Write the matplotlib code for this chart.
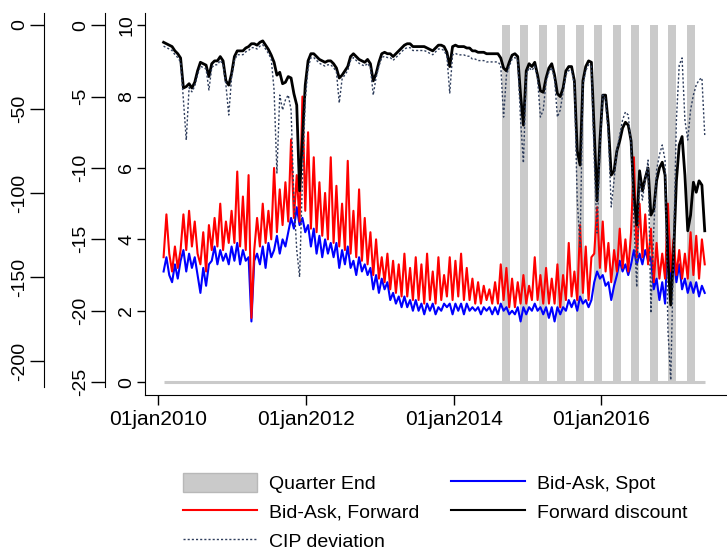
import matplotlib
matplotlib.use("Agg")
import matplotlib.pyplot as plt
import matplotlib.dates as mdates
from matplotlib.patches import Patch
from matplotlib.lines import Line2D
import pandas as pd

plt.rcParams['font.family'] = ['Liberation Sans', 'DejaVu Sans']
plt.rcParams['axes.unicode_minus'] = False

# biweekly observations, Jan 2010 - May 2017
dates = pd.date_range('2010-01-29', periods=192, freq='14D')

# bid-ask spreads (left inner axis, 0..10)
bid_ask_fwd = [
    3.5, 4.7, 3.6, 3.1, 3.8, 3.2, 3.7, 4.7, 3.7, 4.8,
    3.8, 4.5, 3.6, 3.3, 4.2, 3.1, 4.4, 3.7, 4.6, 3.8,
    5.0, 3.7, 4.5, 3.9, 4.8, 3.9, 5.9, 3.8, 5.2, 3.7,
    5.8, 1.8, 3.7, 4.6, 3.8, 5.0, 3.9, 4.8, 4.0, 6.0,
    4.2, 5.4, 4.4, 5.6, 4.5, 6.8, 4.6, 5.8, 4.5, 8.0,
    4.8, 7.0, 4.3, 6.3, 4.2, 5.6, 4.1, 5.3, 4.0, 6.3,
    3.9, 5.5, 3.8, 5.0, 3.7, 6.2, 3.6, 4.8, 3.5, 5.4,
    3.4, 4.6, 3.3, 4.2, 3.0, 4.0, 2.9, 3.5, 2.8, 3.6,
    2.6, 3.4, 2.5, 3.3, 2.4, 3.6, 2.4, 3.2, 2.3, 3.5,
    2.3, 3.3, 2.2, 3.6, 2.3, 3.1, 2.2, 3.5, 2.3, 3.0,
    2.4, 3.5, 2.3, 3.4, 2.4, 3.6, 2.3, 3.2, 2.3, 2.9,
    2.2, 2.8, 2.2, 2.7, 2.3, 2.6, 2.2, 2.8, 2.2, 3.3,
    2.3, 3.2, 2.1, 2.9, 2.1, 2.8, 2.2, 3.0, 2.2, 2.7,
    2.3, 3.5, 2.3, 3.0, 2.2, 3.2, 2.2, 2.9, 2.2, 3.3,
    2.1, 3.0, 2.3, 3.9, 2.4, 3.1, 2.3, 4.4, 2.5, 3.8,
    2.3, 3.5, 3.6, 4.9, 3.2, 4.5, 3.1, 3.9, 2.8, 3.7,
    3.1, 4.3, 3.2, 4.0, 3.1, 4.2, 6.3, 3.5, 5.0, 3.5,
    4.7, 3.3, 4.3, 2.8, 3.9, 2.9, 3.6, 2.9, 5.0, 3.1,
    4.0, 3.0, 3.7, 2.9, 3.6, 2.9, 4.2, 3.0, 4.1, 2.9,
    4.0, 3.3,
]
bid_ask_spot = [
    3.1, 3.5, 3.0, 2.8, 3.3, 2.9, 3.4, 3.7, 3.1, 3.6,
    3.2, 3.5, 3.0, 2.5, 3.2, 2.7, 3.3, 3.4, 3.8, 3.3,
    3.7, 3.4, 3.6, 3.3, 3.8, 3.4, 3.9, 3.3, 3.7, 3.4,
    3.5, 1.7, 3.4, 3.6, 3.3, 3.8, 3.2, 3.9, 3.5, 3.7,
    4.1, 3.6, 4.0, 3.8, 4.2, 4.6, 4.3, 4.9, 4.4, 4.6,
    4.2, 4.4, 3.8, 4.3, 3.6, 4.1, 3.5, 4.0, 3.6, 3.9,
    3.5, 3.9, 3.2, 3.7, 3.3, 3.8, 3.2, 3.4, 3.0, 3.5,
    3.1, 3.3, 3.0, 3.2, 2.6, 3.0, 2.5, 2.9, 2.6, 2.8,
    2.3, 2.5, 2.2, 2.4, 2.1, 2.4, 2.1, 2.3, 2.0, 2.3,
    2.0, 2.2, 1.9, 2.2, 2.0, 2.2, 1.9, 2.1, 2.0, 2.2,
    2.1, 2.2, 1.9, 2.2, 2.0, 2.2, 1.9, 2.2, 2.0, 2.1,
    2.0, 2.1, 1.9, 2.1, 2.0, 2.1, 1.9, 2.1, 1.9, 2.2,
    2.0, 2.1, 1.9, 2.0, 1.9, 2.1, 1.7, 2.1, 1.9, 2.1,
    2.0, 2.2, 2.0, 2.1, 1.9, 2.1, 1.8, 2.1, 1.7, 2.1,
    1.9, 2.1, 2.0, 2.3, 2.1, 2.3, 2.0, 2.4, 2.2, 2.3,
    2.1, 2.3, 2.8, 3.1, 2.9, 3.0, 2.7, 2.8, 2.3, 2.7,
    3.0, 3.4, 3.1, 3.3, 3.0, 3.3, 3.7, 3.3, 3.6, 3.3,
    3.7, 3.4, 3.5, 2.6, 2.9, 2.3, 2.8, 2.2, 4.1, 2.9,
    3.5, 2.8, 3.3, 2.6, 2.9, 2.5, 2.8, 2.5, 2.8, 2.4,
    2.7, 2.5,
]
# forward discount (middle axis, -25..0)
fwd_discount = [
    -1.2, -1.3, -1.4, -1.5, -1.8, -2.0, -2.3, -4.4, -4.3, -4.1,
    -4.4, -4.0, -3.2, -2.6, -2.7, -2.8, -3.6, -2.7, -2.5, -2.5,
    -2.2, -2.5, -3.9, -4.2, -3.4, -2.2, -1.8, -1.8, -1.8, -1.6,
    -1.5, -1.3, -1.3, -1.4, -1.2, -1.1, -1.4, -1.7, -2.1, -2.6,
    -3.5, -3.3, -4.1, -4.0, -3.6, -3.7, -4.8, -5.6, -11.6, -8.0,
    -4.2, -2.5, -2.0, -2.0, -2.2, -2.4, -2.5, -2.6, -2.5, -2.5,
    -2.7, -3.0, -3.7, -3.5, -3.2, -2.9, -2.2, -2.0, -2.2, -2.4,
    -2.5, -2.6, -2.4, -2.7, -3.9, -3.4, -2.6, -2.0, -1.9, -2.0,
    -2.0, -2.2, -2.0, -1.8, -1.6, -1.4, -1.3, -1.3, -1.5, -1.5,
    -1.5, -1.5, -1.5, -1.6, -1.7, -1.8, -1.6, -1.4, -1.4, -1.5,
    -1.9, -2.9, -1.5, -1.4, -1.5, -1.5, -1.5, -1.6, -1.6, -1.8,
    -1.8, -1.9, -1.9, -1.9, -2.0, -2.0, -2.0, -2.0, -2.0, -2.3,
    -3.0, -3.2, -2.6, -2.1, -2.0, -2.2, -4.9, -7.0, -3.2, -2.7,
    -2.9, -2.6, -3.5, -4.6, -4.7, -3.7, -3.0, -2.7, -3.5, -4.8,
    -5.0, -4.4, -3.2, -2.9, -2.9, -3.9, -8.8, -9.8, -3.9, -2.9,
    -2.5, -2.6, -7.4, -12.3, -8.1, -4.9, -4.9, -7.0, -10.5, -10.2,
    -8.8, -8.1, -7.2, -6.8, -7.0, -8.1, -11.9, -14.0, -10.2, -11.6,
    -10.7, -10.0, -13.3, -12.9, -10.9, -10.0, -9.6, -10.5, -16.5, -19.6,
    -16.1, -10.9, -8.4, -7.8, -10.5, -14.4, -13.3, -11.0, -11.7, -10.9,
    -11.2, -14.4,
]
# CIP deviation (outer axis, -200..0)
cip_dev = [
    -12.6, -13.5, -14.3, -15.2, -17.7, -19.4, -22.0, -44.6, -68.5, -37.3,
    -39.8, -36.4, -29.6, -24.5, -25.4, -26.2, -38.7, -25.4, -23.7, -23.7,
    -21.1, -23.7, -35.6, -53.6, -31.3, -21.1, -17.7, -17.7, -17.7, -16.0,
    -15.2, -13.5, -13.5, -14.3, -12.6, -11.8, -14.3, -16.9, -20.3, -38.7,
    -88.1, -41.7, -50.6, -44.6, -41.7, -50.6, -104.2, -133.9, -150.0, -92.3,
    -44.6, -25.6, -19.4, -19.4, -21.1, -22.8, -23.7, -24.5, -23.7, -23.7,
    -25.4, -27.9, -46.4, -32.2, -29.6, -27.1, -21.1, -19.4, -21.1, -22.8,
    -23.7, -24.5, -22.8, -25.4, -41.7, -31.3, -24.5, -19.4, -18.6, -19.4,
    -19.4, -21.1, -19.4, -17.7, -16.0, -14.3, -13.5, -13.5, -15.2, -15.2,
    -15.2, -15.2, -15.2, -16.0, -16.9, -17.7, -16.0, -14.3, -14.3, -15.2,
    -18.6, -40.5, -17.8, -16.9, -17.8, -17.8, -17.8, -18.6, -18.6, -20.3,
    -20.3, -21.2, -21.2, -21.2, -22.0, -22.0, -22.0, -22.0, -22.0, -24.0,
    -54.8, -30.0, -24.5, -20.3, -19.4, -21.1, -56.5, -82.1, -29.6, -25.4,
    -27.1, -24.5, -32.2, -54.8, -50.6, -33.9, -27.9, -25.4, -32.2, -54.8,
    -50.6, -39.8, -29.6, -27.1, -27.1, -35.6, -104.2, -132.1, -35.6, -27.1,
    -23.7, -24.5, -80.4, -123.8, -74.4, -41.7, -44.6, -65.5, -108.3, -92.3,
    -74.4, -65.5, -56.5, -51.8, -53.6, -71.4, -116.1, -156.0, -92.3, -104.2,
    -92.3, -80.4, -171.4, -122.0, -86.3, -77.4, -71.4, -80.4, -181.5, -211.3,
    -133.9, -56.5, -23.8, -19.6, -56.5, -68.5, -50.6, -41.7, -35.7, -32.7,
    -31.5, -65.5,
]

quarter_ends = ['2014-09-30', '2014-12-31', '2015-03-31', '2015-06-30',
                '2015-09-30', '2015-12-31', '2016-03-31', '2016-06-30',
                '2016-09-30', '2016-12-31', '2017-03-31']
xtick_dates = ['2010-01-01', '2012-01-01', '2014-01-01', '2016-01-01']

GREY = '#cacaca'
DOT = '#2e3d5c'

fig = plt.figure(figsize=(7.27, 5.52), dpi=100)
ax = fig.add_axes([0.1994, 0.2844, 0.8006, 0.692])
ax2 = ax.twinx()
ax3 = ax.twinx()

# quarter end bars + zero baseline
qe = pd.to_datetime(quarter_ends) - pd.Timedelta(days=14)
ax.bar(mdates.date2num(qe), [10] * len(qe), width=40, color=GREY, zorder=1)
ax.hlines(0, dates[0], dates[-1], color=GREY, lw=2.2, zorder=1)

ax.plot(dates, bid_ask_spot, color='#0000ff', lw=1.5, zorder=2)
ax.plot(dates, bid_ask_fwd, color='#ff0000', lw=1.5, zorder=3)
ax2.plot(dates, fwd_discount, color='black', lw=2.0)
ax3.plot(dates, cip_dev, color=DOT, lw=1.0, linestyle=(0, (1.5, 1.5)))

ax.set_xlim(pd.Timestamp('2009-10-29'), pd.Timestamp('2017-09-13'))
ax.set_ylim(-0.36, 10.34)
ax2.set_ylim(-25.9, 0.85)
ax3.set_ylim(-220.2, 7.1)

xt = pd.to_datetime(xtick_dates)
ax.set_xticks(xt)
ax.set_xticklabels([d.strftime('%d%b%Y').lower() for d in xt], fontsize=15)
ax.tick_params(axis='x', length=7, width=1, pad=4)

ax.set_yticks(range(0, 11, 2))
ax.tick_params(axis='y', length=6, width=1, pad=1, labelsize=14, labelrotation=90)
for lab in ax.get_yticklabels():
    lab.set_va('center')

for a in (ax, ax2, ax3):
    a.spines['top'].set_visible(False)
    a.spines['right'].set_visible(False)
for a in (ax2, ax3):
    a.spines['bottom'].set_visible(False)
    a.yaxis.set_ticks_position('left')
    a.yaxis.set_label_position('left')
    a.spines['left'].set_visible(True)
    a.tick_params(axis='y', length=10, width=1, pad=1.5, labelsize=14, labelrotation=90)

ax2.spines['left'].set_position(('outward', 28.8))
ax2.spines['left'].set_bounds(-25.35, 0.84)
ax2.set_yticks(range(-25, 1, 5))
ax3.spines['left'].set_position(('outward', 72.7))
ax3.spines['left'].set_bounds(-215.5, 7.1)
ax3.set_yticks(range(-200, 1, 50))
for a in (ax2, ax3):
    for lab in a.get_yticklabels():
        lab.set_va('center')

handles = [
    Patch(facecolor=GREY, edgecolor='#b8b8b8'),
    Line2D([], [], color='#ff0000', lw=1.5),
    Line2D([], [], color=DOT, lw=1.0, linestyle=(0, (1.5, 1.5))),
    Line2D([], [], color='#0000ff', lw=1.5),
    Line2D([], [], color='black', lw=1.5),
]
labels = ['Quarter End', 'Bid-Ask, Forward', 'CIP deviation',
          'Bid-Ask, Spot', 'Forward discount']
fig.legend(handles, labels, ncol=2, loc='upper left',
           bbox_to_anchor=(0.252, 0.1426), frameon=False, fontsize=14,
           handlelength=3.8, handleheight=1.1, handletextpad=0.6,
           columnspacing=1.65, labelspacing=0.45, borderpad=0,
           borderaxespad=0)

fig.savefig('out.png', dpi=100)
